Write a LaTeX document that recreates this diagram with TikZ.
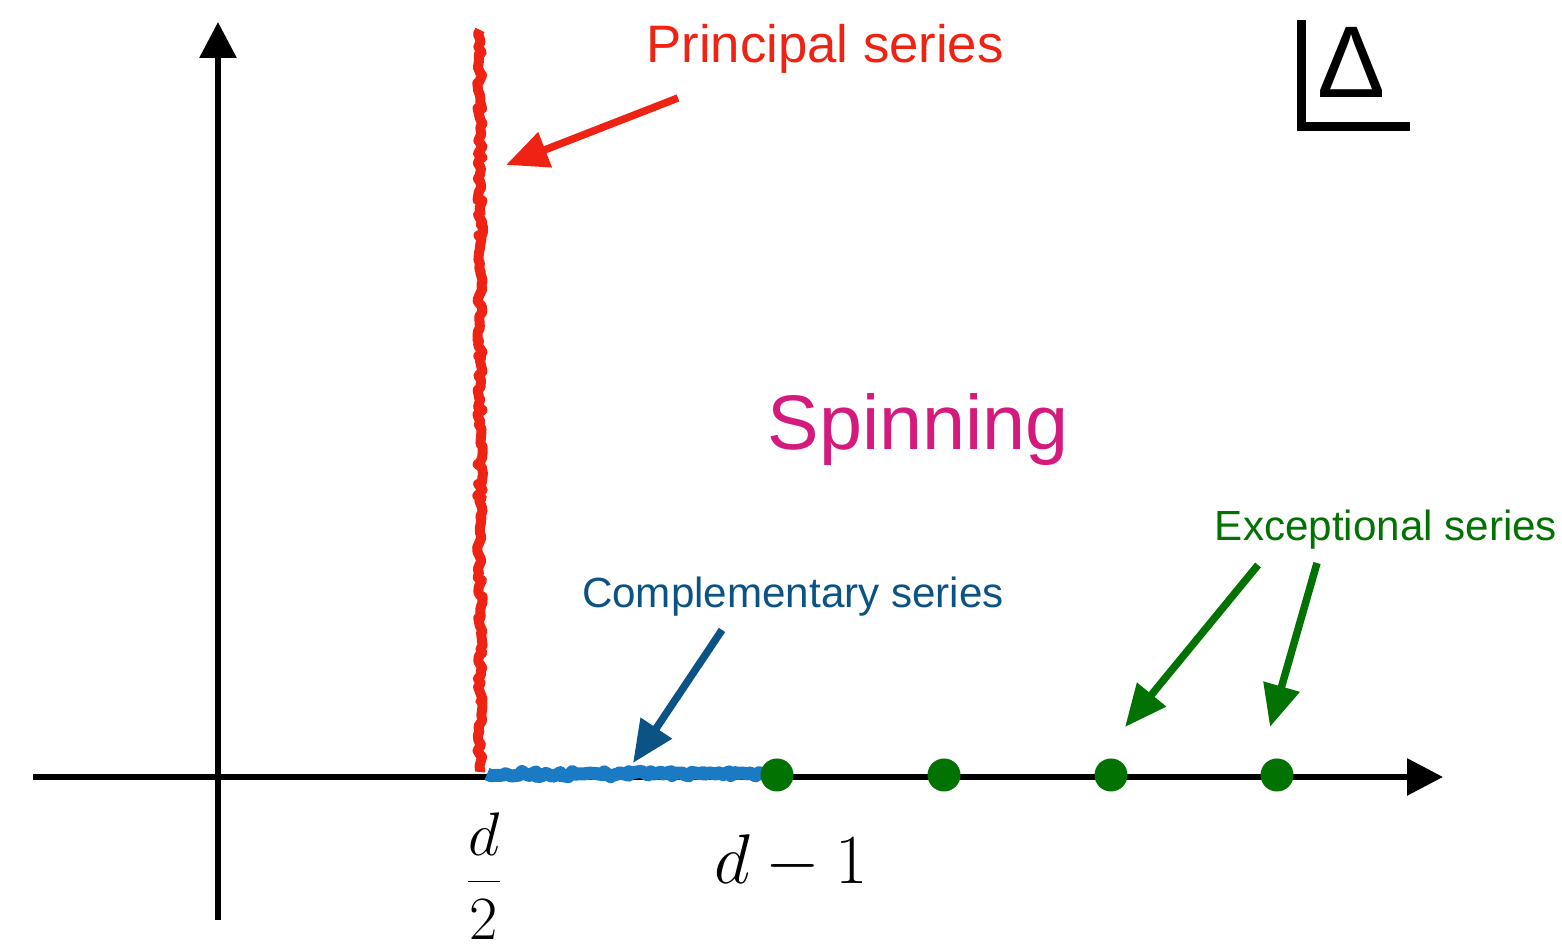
\RequirePackage{fix-cm}
\documentclass[tikz,border=0pt]{standalone}
\usepackage[no-math]{fontspec}
\newfontfamily\helv{Liberation Sans}
\usetikzlibrary{arrows.meta,decorations.pathmorphing}
\definecolor{ink}{HTML}{000000}
\definecolor{prinred}{HTML}{EE2314}
\definecolor{compblue}{HTML}{1B7AC4}
\definecolor{compdark}{HTML}{0B5285}
\definecolor{excgreen}{HTML}{027302}
\definecolor{spinpink}{HTML}{D41A7C}

\begin{document}
\begin{tikzpicture}[x=1cm,y=1cm,>={Triangle[length=.42cm,width=.36cm]},every node/.style={font=\helv,inner sep=0pt,text=ink},axis/.style={-{Triangle[length=.36cm,width=.36cm]},ink,line width=.06cm},pointer/.style={->,line width=.075cm},rough/.style={decorate,decoration={random steps,segment length=1.2pt,amplitude=.8pt},line join=round},dot/.style={circle,fill=excgreen,minimum size=.33cm},lbl/.style={font=\helv\fontsize{#1}{#1}\selectfont}]
\path[use as bounding box] (0,0) rectangle (15.62,9.48);

\draw[axis] (0.33,1.71)--(14.43,1.71);
\draw[axis] (2.18,0.28)--(2.18,9.26);

\draw[prinred,line width=.1cm,rough] (4.80,9.18)--(4.80,1.76);
\draw[compblue,line width=.13cm,rough] (4.87,1.74)--(7.66,1.74);

\node[dot] (ex1) at (7.77,1.73) {};
\node[dot] (ex2) at (9.44,1.73) {};
\node[dot] (ex3) at (11.11,1.73) {};
\node[dot] (ex4) at (12.77,1.73) {};

\node[lbl=15,text=prinred] (prin) at (8.25,8.99) {Principal series};
\node[lbl=22,text=spinpink] (spin) at (9.18,5.18) {Spinning};
\node[lbl=12,text=compdark] (comp) at (7.93,3.51) {Complementary series};
\node[lbl=12,text=excgreen] (exc) at (13.86,4.18) {Exceptional series};

\coordinate (prtail) at (6.78,8.50);
\coordinate (prtip) at (5.06,7.83);
\coordinate (cotail) at (7.22,3.18);
\coordinate (cotip) at (6.33,1.85);
\coordinate (eatail) at (12.58,3.83);
\coordinate (eatip) at (11.25,2.21);
\coordinate (ebtail) at (13.17,3.85);
\coordinate (ebtip) at (12.70,2.21);
\draw[pointer,prinred] (prtail)--(prtip);
\draw[pointer,compdark] (cotail)--(cotip);
\draw[pointer,excgreen] (eatail)--(eatip);
\draw[pointer,excgreen] (ebtail)--(ebtip);

\node (half) at (4.84,0.72) {\fontsize{17.5}{21}\selectfont$\displaystyle\frac{d}{2}$};
\node (dmone) at (7.91,0.86) {\fontsize{20}{24}\selectfont$d-1$};

\draw[ink,line width=.09cm] (13.01,9.28)|-(14.10,8.215);
\node[lbl=29] (delta) at (13.52,8.86) {Δ};

\end{tikzpicture}
\end{document}
